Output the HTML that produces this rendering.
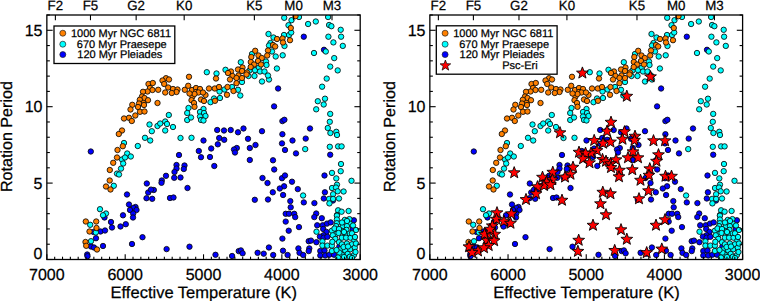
<!DOCTYPE html>
<html><head><meta charset="utf-8"><style>
html,body{margin:0;padding:0;background:#fff;width:760px;height:301px;overflow:hidden}
svg{display:block}
text{font-family:'Liberation Sans',sans-serif;fill:#000;stroke:#000;stroke-width:0.25px;text-rendering:geometricPrecision}
</style></head><body>
<svg width="760" height="301" viewBox="0 0 760 301">
<defs>
<clipPath id="cl"><rect x="46.85" y="15.0" width="313.35" height="244.50"/></clipPath>
<g id="dots" stroke="#0a0a0a" stroke-width="0.85">
<g fill="#0000ff">
<circle cx="303.8" cy="36.7" r="2.7"/>
<circle cx="324.0" cy="49.8" r="2.7"/>
<circle cx="278.1" cy="88.5" r="2.7"/>
<circle cx="217.2" cy="130.0" r="2.7"/>
<circle cx="224.0" cy="130.5" r="2.7"/>
<circle cx="230.7" cy="130.0" r="2.7"/>
<circle cx="238.0" cy="132.3" r="2.7"/>
<circle cx="243.5" cy="128.5" r="2.7"/>
<circle cx="262.0" cy="131.2" r="2.7"/>
<circle cx="274.1" cy="106.4" r="2.7"/>
<circle cx="282.4" cy="121.1" r="2.7"/>
<circle cx="284.4" cy="119.8" r="2.7"/>
<circle cx="310.0" cy="128.5" r="2.7"/>
<circle cx="90.8" cy="151.5" r="2.7"/>
<circle cx="179.0" cy="155.0" r="2.7"/>
<circle cx="203.5" cy="140.5" r="2.7"/>
<circle cx="219.2" cy="138.0" r="2.7"/>
<circle cx="224.2" cy="139.8" r="2.7"/>
<circle cx="217.8" cy="144.3" r="2.7"/>
<circle cx="211.2" cy="148.5" r="2.7"/>
<circle cx="198.8" cy="151.0" r="2.7"/>
<circle cx="201.0" cy="157.2" r="2.7"/>
<circle cx="210.0" cy="157.0" r="2.7"/>
<circle cx="248.0" cy="138.8" r="2.7"/>
<circle cx="255.5" cy="145.0" r="2.7"/>
<circle cx="249.8" cy="148.0" r="2.7"/>
<circle cx="236.8" cy="148.0" r="2.7"/>
<circle cx="234.0" cy="149.5" r="2.7"/>
<circle cx="235.0" cy="152.5" r="2.7"/>
<circle cx="249.8" cy="160.0" r="2.7"/>
<circle cx="282.4" cy="134.2" r="2.7"/>
<circle cx="292.5" cy="140.5" r="2.7"/>
<circle cx="305.7" cy="138.6" r="2.7"/>
<circle cx="282.0" cy="143.4" r="2.7"/>
<circle cx="285.0" cy="150.0" r="2.7"/>
<circle cx="296.0" cy="153.4" r="2.7"/>
<circle cx="273.0" cy="160.3" r="2.7"/>
<circle cx="330.2" cy="154.7" r="2.7"/>
<circle cx="176.5" cy="165.0" r="2.7"/>
<circle cx="176.5" cy="168.5" r="2.7"/>
<circle cx="174.5" cy="172.0" r="2.7"/>
<circle cx="174.2" cy="177.8" r="2.7"/>
<circle cx="180.5" cy="177.5" r="2.7"/>
<circle cx="184.5" cy="165.5" r="2.7"/>
<circle cx="183.8" cy="169.0" r="2.7"/>
<circle cx="166.0" cy="175.8" r="2.7"/>
<circle cx="161.8" cy="180.5" r="2.7"/>
<circle cx="161.5" cy="182.8" r="2.7"/>
<circle cx="146.8" cy="183.5" r="2.7"/>
<circle cx="214.3" cy="166.0" r="2.7"/>
<circle cx="262.5" cy="178.0" r="2.7"/>
<circle cx="187.5" cy="188.0" r="2.7"/>
<circle cx="274.2" cy="169.5" r="2.7"/>
<circle cx="267.5" cy="183.0" r="2.7"/>
<circle cx="282.0" cy="178.2" r="2.7"/>
<circle cx="285.0" cy="175.5" r="2.7"/>
<circle cx="292.0" cy="181.7" r="2.7"/>
<circle cx="284.1" cy="186.3" r="2.7"/>
<circle cx="279.8" cy="188.5" r="2.7"/>
<circle cx="297.8" cy="189.1" r="2.7"/>
<circle cx="324.5" cy="175.5" r="2.7"/>
<circle cx="153.8" cy="190.0" r="2.7"/>
<circle cx="148.2" cy="192.5" r="2.7"/>
<circle cx="146.5" cy="198.2" r="2.7"/>
<circle cx="152.2" cy="198.8" r="2.7"/>
<circle cx="127.0" cy="194.5" r="2.7"/>
<circle cx="129.0" cy="204.5" r="2.7"/>
<circle cx="135.5" cy="207.0" r="2.7"/>
<circle cx="133.5" cy="208.0" r="2.7"/>
<circle cx="130.0" cy="210.0" r="2.7"/>
<circle cx="136.5" cy="210.0" r="2.7"/>
<circle cx="133.2" cy="213.5" r="2.7"/>
<circle cx="123.0" cy="215.3" r="2.7"/>
<circle cx="170.0" cy="198.0" r="2.7"/>
<circle cx="173.5" cy="197.5" r="2.7"/>
<circle cx="254.8" cy="199.8" r="2.7"/>
<circle cx="268.0" cy="199.5" r="2.7"/>
<circle cx="272.8" cy="192.3" r="2.7"/>
<circle cx="283.1" cy="195.0" r="2.7"/>
<circle cx="290.3" cy="201.1" r="2.7"/>
<circle cx="303.8" cy="202.4" r="2.7"/>
<circle cx="314.4" cy="203.1" r="2.7"/>
<circle cx="290.7" cy="207.3" r="2.7"/>
<circle cx="285.7" cy="213.8" r="2.7"/>
<circle cx="289.0" cy="213.7" r="2.7"/>
<circle cx="294.2" cy="213.8" r="2.7"/>
<circle cx="316.2" cy="213.5" r="2.7"/>
<circle cx="324.9" cy="192.3" r="2.7"/>
<circle cx="323.8" cy="198.5" r="2.7"/>
<circle cx="333.0" cy="200.5" r="2.7"/>
<circle cx="104.5" cy="217.5" r="2.7"/>
<circle cx="111.0" cy="222.0" r="2.7"/>
<circle cx="112.0" cy="227.5" r="2.7"/>
<circle cx="120.5" cy="226.5" r="2.7"/>
<circle cx="125.8" cy="224.2" r="2.7"/>
<circle cx="133.0" cy="217.5" r="2.7"/>
<circle cx="93.5" cy="232.0" r="2.7"/>
<circle cx="100.5" cy="231.5" r="2.7"/>
<circle cx="105.0" cy="230.5" r="2.7"/>
<circle cx="96.0" cy="238.2" r="2.7"/>
<circle cx="91.0" cy="246.5" r="2.7"/>
<circle cx="94.0" cy="247.5" r="2.7"/>
<circle cx="103.0" cy="246.0" r="2.7"/>
<circle cx="87.2" cy="254.5" r="2.7"/>
<circle cx="87.5" cy="256.2" r="2.7"/>
<circle cx="132.0" cy="244.0" r="2.7"/>
<circle cx="142.5" cy="237.2" r="2.7"/>
<circle cx="166.6" cy="249.1" r="2.7"/>
<circle cx="189.5" cy="246.7" r="2.7"/>
<circle cx="215.5" cy="254.8" r="2.7"/>
<circle cx="232.1" cy="256.0" r="2.7"/>
<circle cx="238.7" cy="251.1" r="2.7"/>
<circle cx="240.9" cy="250.4" r="2.7"/>
<circle cx="242.6" cy="253.3" r="2.7"/>
<circle cx="257.6" cy="252.8" r="2.7"/>
<circle cx="263.7" cy="253.7" r="2.7"/>
<circle cx="268.9" cy="247.5" r="2.7"/>
<circle cx="273.2" cy="255.0" r="2.7"/>
<circle cx="282.4" cy="238.6" r="2.7"/>
<circle cx="283.0" cy="250.7" r="2.7"/>
<circle cx="287.6" cy="255.0" r="2.7"/>
<circle cx="298.4" cy="248.4" r="2.7"/>
<circle cx="299.5" cy="252.8" r="2.7"/>
<circle cx="303.2" cy="255.0" r="2.7"/>
<circle cx="308.7" cy="241.2" r="2.7"/>
<circle cx="309.3" cy="248.4" r="2.7"/>
<circle cx="308.7" cy="251.1" r="2.7"/>
<circle cx="295.2" cy="217.1" r="2.7"/>
<circle cx="285.7" cy="221.6" r="2.7"/>
<circle cx="299.0" cy="227.1" r="2.7"/>
<circle cx="288.7" cy="230.7" r="2.7"/>
<circle cx="314.3" cy="217.1" r="2.7"/>
<circle cx="317.2" cy="225.3" r="2.7"/>
<circle cx="311.0" cy="240.6" r="2.7"/>
<circle cx="316.4" cy="242.2" r="2.7"/>
<circle cx="321.8" cy="218.2" r="2.7"/>
<circle cx="322.8" cy="225.3" r="2.7"/>
<circle cx="327.0" cy="223.6" r="2.7"/>
<circle cx="330.7" cy="222.4" r="2.7"/>
<circle cx="323.2" cy="229.0" r="2.7"/>
<circle cx="326.5" cy="231.9" r="2.7"/>
<circle cx="323.6" cy="235.3" r="2.7"/>
<circle cx="319.9" cy="236.6" r="2.7"/>
<circle cx="323.6" cy="237.7" r="2.7"/>
<circle cx="327.4" cy="236.8" r="2.7"/>
<circle cx="320.3" cy="251.0" r="2.7"/>
<circle cx="324.5" cy="250.5" r="2.7"/>
<circle cx="320.3" cy="255.5" r="2.7"/>
<circle cx="325.3" cy="255.5" r="2.7"/>
<circle cx="329.4" cy="254.7" r="2.7"/>
<circle cx="334.0" cy="254.7" r="2.7"/>
<circle cx="339.4" cy="246.4" r="2.7"/>
<circle cx="353.5" cy="236.8" r="2.7"/>
<circle cx="353.9" cy="220.3" r="2.7"/>
<circle cx="352.7" cy="229.0" r="2.7"/>
<circle cx="151.0" cy="189.6" r="2.7"/>
</g>
<g fill="#00ffff">
<circle cx="268.5" cy="34.0" r="2.7"/>
<circle cx="273.5" cy="37.5" r="2.7"/>
<circle cx="270.5" cy="43.0" r="2.7"/>
<circle cx="284.2" cy="17.8" r="2.7"/>
<circle cx="291.5" cy="20.2" r="2.7"/>
<circle cx="299.0" cy="17.0" r="2.7"/>
<circle cx="288.5" cy="25.2" r="2.7"/>
<circle cx="308.1" cy="24.0" r="2.7"/>
<circle cx="315.8" cy="21.5" r="2.7"/>
<circle cx="284.0" cy="35.0" r="2.7"/>
<circle cx="289.0" cy="35.0" r="2.7"/>
<circle cx="291.2" cy="32.5" r="2.7"/>
<circle cx="328.1" cy="17.0" r="2.7"/>
<circle cx="329.1" cy="25.0" r="2.7"/>
<circle cx="331.4" cy="26.2" r="2.7"/>
<circle cx="340.7" cy="29.8" r="2.7"/>
<circle cx="328.4" cy="36.7" r="2.7"/>
<circle cx="341.1" cy="36.7" r="2.7"/>
<circle cx="333.4" cy="42.4" r="2.7"/>
<circle cx="240.8" cy="62.2" r="2.7"/>
<circle cx="252.0" cy="54.0" r="2.7"/>
<circle cx="269.0" cy="45.5" r="2.7"/>
<circle cx="272.0" cy="51.5" r="2.7"/>
<circle cx="266.0" cy="61.5" r="2.7"/>
<circle cx="266.5" cy="65.0" r="2.7"/>
<circle cx="225.5" cy="69.8" r="2.7"/>
<circle cx="206.8" cy="72.2" r="2.7"/>
<circle cx="216.5" cy="73.5" r="2.7"/>
<circle cx="249.5" cy="70.5" r="2.7"/>
<circle cx="255.0" cy="70.2" r="2.7"/>
<circle cx="259.0" cy="67.5" r="2.7"/>
<circle cx="260.0" cy="71.5" r="2.7"/>
<circle cx="264.5" cy="71.5" r="2.7"/>
<circle cx="284.5" cy="46.0" r="2.7"/>
<circle cx="275.7" cy="56.5" r="2.7"/>
<circle cx="282.7" cy="55.3" r="2.7"/>
<circle cx="276.9" cy="68.5" r="2.7"/>
<circle cx="314.0" cy="53.0" r="2.7"/>
<circle cx="325.8" cy="51.5" r="2.7"/>
<circle cx="334.2" cy="58.1" r="2.7"/>
<circle cx="330.2" cy="66.6" r="2.7"/>
<circle cx="337.7" cy="70.4" r="2.7"/>
<circle cx="342.8" cy="45.9" r="2.7"/>
<circle cx="248.5" cy="76.0" r="2.7"/>
<circle cx="254.5" cy="76.0" r="2.7"/>
<circle cx="242.0" cy="82.0" r="2.7"/>
<circle cx="262.0" cy="81.5" r="2.7"/>
<circle cx="269.0" cy="79.5" r="2.7"/>
<circle cx="268.0" cy="75.5" r="2.7"/>
<circle cx="232.0" cy="87.0" r="2.7"/>
<circle cx="224.5" cy="89.5" r="2.7"/>
<circle cx="219.5" cy="91.5" r="2.7"/>
<circle cx="238.0" cy="89.8" r="2.7"/>
<circle cx="240.3" cy="95.5" r="2.7"/>
<circle cx="220.0" cy="98.0" r="2.7"/>
<circle cx="214.0" cy="98.5" r="2.7"/>
<circle cx="210.5" cy="102.2" r="2.7"/>
<circle cx="326.7" cy="78.6" r="2.7"/>
<circle cx="322.1" cy="86.7" r="2.7"/>
<circle cx="325.0" cy="98.7" r="2.7"/>
<circle cx="317.8" cy="101.2" r="2.7"/>
<circle cx="323.7" cy="104.5" r="2.7"/>
<circle cx="168.8" cy="115.0" r="2.7"/>
<circle cx="149.5" cy="124.5" r="2.7"/>
<circle cx="157.5" cy="126.0" r="2.7"/>
<circle cx="160.2" cy="123.5" r="2.7"/>
<circle cx="165.2" cy="121.5" r="2.7"/>
<circle cx="167.0" cy="124.0" r="2.7"/>
<circle cx="173.0" cy="127.0" r="2.7"/>
<circle cx="151.8" cy="131.2" r="2.7"/>
<circle cx="165.2" cy="130.5" r="2.7"/>
<circle cx="188.5" cy="108.0" r="2.7"/>
<circle cx="187.2" cy="113.0" r="2.7"/>
<circle cx="187.2" cy="120.0" r="2.7"/>
<circle cx="191.0" cy="117.5" r="2.7"/>
<circle cx="203.5" cy="109.0" r="2.7"/>
<circle cx="200.0" cy="112.0" r="2.7"/>
<circle cx="204.0" cy="113.0" r="2.7"/>
<circle cx="205.5" cy="116.0" r="2.7"/>
<circle cx="200.0" cy="116.5" r="2.7"/>
<circle cx="201.0" cy="120.0" r="2.7"/>
<circle cx="203.5" cy="120.5" r="2.7"/>
<circle cx="316.2" cy="109.3" r="2.7"/>
<circle cx="330.2" cy="113.9" r="2.7"/>
<circle cx="329.8" cy="121.8" r="2.7"/>
<circle cx="327.8" cy="128.0" r="2.7"/>
<circle cx="330.4" cy="133.0" r="2.7"/>
<circle cx="336.3" cy="131.8" r="2.7"/>
<circle cx="124.0" cy="143.0" r="2.7"/>
<circle cx="127.2" cy="153.5" r="2.7"/>
<circle cx="130.8" cy="156.5" r="2.7"/>
<circle cx="122.0" cy="159.5" r="2.7"/>
<circle cx="125.0" cy="157.5" r="2.7"/>
<circle cx="137.8" cy="146.0" r="2.7"/>
<circle cx="145.0" cy="137.8" r="2.7"/>
<circle cx="150.2" cy="140.5" r="2.7"/>
<circle cx="180.5" cy="138.0" r="2.7"/>
<circle cx="191.5" cy="137.8" r="2.7"/>
<circle cx="337.0" cy="135.0" r="2.7"/>
<circle cx="305.2" cy="149.1" r="2.7"/>
<circle cx="329.8" cy="146.8" r="2.7"/>
<circle cx="338.1" cy="146.4" r="2.7"/>
<circle cx="341.6" cy="146.4" r="2.7"/>
<circle cx="123.2" cy="163.5" r="2.7"/>
<circle cx="121.0" cy="168.6" r="2.7"/>
<circle cx="117.0" cy="173.6" r="2.7"/>
<circle cx="119.0" cy="174.5" r="2.7"/>
<circle cx="113.8" cy="185.8" r="2.7"/>
<circle cx="341.0" cy="164.0" r="2.7"/>
<circle cx="340.7" cy="171.2" r="2.7"/>
<circle cx="332.0" cy="172.9" r="2.7"/>
<circle cx="336.3" cy="178.4" r="2.7"/>
<circle cx="351.5" cy="180.8" r="2.7"/>
<circle cx="337.0" cy="184.7" r="2.7"/>
<circle cx="332.0" cy="188.0" r="2.7"/>
<circle cx="336.0" cy="187.5" r="2.7"/>
<circle cx="100.0" cy="209.2" r="2.7"/>
<circle cx="106.0" cy="213.5" r="2.7"/>
<circle cx="103.0" cy="215.2" r="2.7"/>
<circle cx="303.1" cy="195.5" r="2.7"/>
<circle cx="337.7" cy="191.3" r="2.7"/>
<circle cx="343.6" cy="191.5" r="2.7"/>
<circle cx="333.1" cy="194.2" r="2.7"/>
<circle cx="329.1" cy="198.9" r="2.7"/>
<circle cx="333.1" cy="198.9" r="2.7"/>
<circle cx="339.0" cy="198.5" r="2.7"/>
<circle cx="329.4" cy="203.4" r="2.7"/>
<circle cx="338.1" cy="210.3" r="2.7"/>
<circle cx="341.6" cy="211.7" r="2.7"/>
<circle cx="348.6" cy="211.0" r="2.7"/>
<circle cx="337.0" cy="215.0" r="2.7"/>
<circle cx="90.2" cy="224.8" r="2.7"/>
<circle cx="95.8" cy="232.5" r="2.7"/>
<circle cx="91.0" cy="241.2" r="2.7"/>
<circle cx="316.5" cy="231.7" r="2.7"/>
<circle cx="336.9" cy="215.7" r="2.7"/>
<circle cx="336.9" cy="219.5" r="2.7"/>
<circle cx="344.8" cy="219.9" r="2.7"/>
<circle cx="349.4" cy="219.1" r="2.7"/>
<circle cx="349.8" cy="223.6" r="2.7"/>
<circle cx="336.9" cy="223.2" r="2.7"/>
<circle cx="336.1" cy="226.1" r="2.7"/>
<circle cx="342.7" cy="226.5" r="2.7"/>
<circle cx="346.9" cy="226.1" r="2.7"/>
<circle cx="331.9" cy="230.7" r="2.7"/>
<circle cx="341.5" cy="230.7" r="2.7"/>
<circle cx="346.5" cy="229.9" r="2.7"/>
<circle cx="336.1" cy="234.0" r="2.7"/>
<circle cx="349.4" cy="233.6" r="2.7"/>
<circle cx="344.8" cy="234.4" r="2.7"/>
<circle cx="332.8" cy="235.3" r="2.7"/>
<circle cx="322.4" cy="241.4" r="2.7"/>
<circle cx="322.4" cy="245.6" r="2.7"/>
<circle cx="327.4" cy="245.6" r="2.7"/>
<circle cx="331.9" cy="245.6" r="2.7"/>
<circle cx="335.3" cy="238.9" r="2.7"/>
<circle cx="332.3" cy="241.8" r="2.7"/>
<circle cx="339.0" cy="242.2" r="2.7"/>
<circle cx="331.9" cy="251.0" r="2.7"/>
<circle cx="341.9" cy="237.7" r="2.7"/>
<circle cx="346.1" cy="237.7" r="2.7"/>
<circle cx="350.6" cy="237.7" r="2.7"/>
<circle cx="354.4" cy="240.6" r="2.7"/>
<circle cx="346.9" cy="243.5" r="2.7"/>
<circle cx="351.9" cy="244.3" r="2.7"/>
<circle cx="341.9" cy="244.3" r="2.7"/>
<circle cx="340.7" cy="249.3" r="2.7"/>
<circle cx="345.2" cy="250.5" r="2.7"/>
<circle cx="350.2" cy="249.3" r="2.7"/>
<circle cx="354.8" cy="247.6" r="2.7"/>
<circle cx="341.9" cy="254.7" r="2.7"/>
<circle cx="347.7" cy="253.9" r="2.7"/>
<circle cx="353.9" cy="255.1" r="2.7"/>
<circle cx="349.8" cy="256.8" r="2.7"/>
<circle cx="339.4" cy="252.6" r="2.7"/>
<circle cx="334.5" cy="228.5" r="2.7"/>
<circle cx="339.0" cy="229.0" r="2.7"/>
<circle cx="344.0" cy="232.0" r="2.7"/>
<circle cx="352.0" cy="233.3" r="2.7"/>
<circle cx="355.0" cy="237.0" r="2.7"/>
<circle cx="338.5" cy="233.0" r="2.7"/>
<circle cx="353.0" cy="225.5" r="2.7"/>
<circle cx="356.0" cy="230.0" r="2.7"/>
<circle cx="343.5" cy="247.0" r="2.7"/>
<circle cx="348.0" cy="246.5" r="2.7"/>
<circle cx="355.5" cy="252.0" r="2.7"/>
<circle cx="344.0" cy="257.0" r="2.7"/>
<circle cx="338.0" cy="257.5" r="2.7"/>
<circle cx="352.0" cy="258.0" r="2.7"/>
<circle cx="336.5" cy="250.0" r="2.7"/>
<circle cx="356.0" cy="243.5" r="2.7"/>
<circle cx="342.0" cy="222.5" r="2.7"/>
<circle cx="347.0" cy="221.0" r="2.7"/>
</g>
<g fill="#ff8000">
<circle cx="295.5" cy="16.2" r="2.7"/>
<circle cx="290.8" cy="28.0" r="2.7"/>
<circle cx="277.0" cy="39.0" r="2.7"/>
<circle cx="282.5" cy="38.5" r="2.7"/>
<circle cx="290.0" cy="40.2" r="2.7"/>
<circle cx="283.0" cy="42.5" r="2.7"/>
<circle cx="273.0" cy="45.0" r="2.7"/>
<circle cx="268.0" cy="50.5" r="2.7"/>
<circle cx="267.2" cy="55.5" r="2.7"/>
<circle cx="255.2" cy="50.8" r="2.7"/>
<circle cx="251.3" cy="57.0" r="2.7"/>
<circle cx="258.5" cy="55.5" r="2.7"/>
<circle cx="261.8" cy="58.0" r="2.7"/>
<circle cx="250.8" cy="62.0" r="2.7"/>
<circle cx="258.0" cy="61.0" r="2.7"/>
<circle cx="254.0" cy="64.5" r="2.7"/>
<circle cx="261.0" cy="64.5" r="2.7"/>
<circle cx="250.7" cy="67.0" r="2.7"/>
<circle cx="242.5" cy="67.5" r="2.7"/>
<circle cx="238.0" cy="69.5" r="2.7"/>
<circle cx="242.0" cy="71.0" r="2.7"/>
<circle cx="247.0" cy="72.5" r="2.7"/>
<circle cx="231.0" cy="71.5" r="2.7"/>
<circle cx="228.0" cy="73.0" r="2.7"/>
<circle cx="275.2" cy="46.5" r="2.7"/>
<circle cx="189.0" cy="76.8" r="2.7"/>
<circle cx="166.0" cy="78.2" r="2.7"/>
<circle cx="169.0" cy="79.5" r="2.7"/>
<circle cx="162.5" cy="80.5" r="2.7"/>
<circle cx="164.2" cy="84.0" r="2.7"/>
<circle cx="148.5" cy="84.0" r="2.7"/>
<circle cx="152.8" cy="83.0" r="2.7"/>
<circle cx="150.0" cy="88.0" r="2.7"/>
<circle cx="152.5" cy="90.0" r="2.7"/>
<circle cx="147.5" cy="91.5" r="2.7"/>
<circle cx="143.0" cy="91.8" r="2.7"/>
<circle cx="158.2" cy="89.8" r="2.7"/>
<circle cx="168.2" cy="87.5" r="2.7"/>
<circle cx="173.0" cy="89.0" r="2.7"/>
<circle cx="177.5" cy="89.5" r="2.7"/>
<circle cx="176.5" cy="92.0" r="2.7"/>
<circle cx="165.2" cy="92.5" r="2.7"/>
<circle cx="171.8" cy="93.0" r="2.7"/>
<circle cx="184.8" cy="89.8" r="2.7"/>
<circle cx="188.2" cy="85.8" r="2.7"/>
<circle cx="192.0" cy="90.0" r="2.7"/>
<circle cx="196.0" cy="88.0" r="2.7"/>
<circle cx="196.0" cy="92.0" r="2.7"/>
<circle cx="192.5" cy="96.5" r="2.7"/>
<circle cx="191.5" cy="100.2" r="2.7"/>
<circle cx="194.0" cy="103.0" r="2.7"/>
<circle cx="142.0" cy="96.5" r="2.7"/>
<circle cx="144.5" cy="98.0" r="2.7"/>
<circle cx="139.8" cy="99.8" r="2.7"/>
<circle cx="148.0" cy="100.2" r="2.7"/>
<circle cx="143.5" cy="103.0" r="2.7"/>
<circle cx="139.0" cy="103.5" r="2.7"/>
<circle cx="157.5" cy="103.0" r="2.7"/>
<circle cx="132.3" cy="104.8" r="2.7"/>
<circle cx="216.0" cy="78.5" r="2.7"/>
<circle cx="232.5" cy="76.0" r="2.7"/>
<circle cx="238.5" cy="75.5" r="2.7"/>
<circle cx="236.5" cy="78.0" r="2.7"/>
<circle cx="242.0" cy="78.0" r="2.7"/>
<circle cx="230.0" cy="79.5" r="2.7"/>
<circle cx="236.5" cy="83.2" r="2.7"/>
<circle cx="246.5" cy="74.5" r="2.7"/>
<circle cx="209.0" cy="88.5" r="2.7"/>
<circle cx="214.8" cy="88.5" r="2.7"/>
<circle cx="219.0" cy="87.0" r="2.7"/>
<circle cx="227.5" cy="87.0" r="2.7"/>
<circle cx="233.5" cy="91.0" r="2.7"/>
<circle cx="227.0" cy="94.8" r="2.7"/>
<circle cx="200.0" cy="89.0" r="2.7"/>
<circle cx="198.5" cy="92.5" r="2.7"/>
<circle cx="205.5" cy="95.0" r="2.7"/>
<circle cx="203.0" cy="92.5" r="2.7"/>
<circle cx="201.0" cy="99.5" r="2.7"/>
<circle cx="204.0" cy="101.0" r="2.7"/>
<circle cx="215.0" cy="100.8" r="2.7"/>
<circle cx="138.0" cy="107.0" r="2.7"/>
<circle cx="144.0" cy="105.0" r="2.7"/>
<circle cx="130.5" cy="109.5" r="2.7"/>
<circle cx="140.0" cy="111.8" r="2.7"/>
<circle cx="144.5" cy="111.5" r="2.7"/>
<circle cx="135.3" cy="115.5" r="2.7"/>
<circle cx="129.0" cy="117.8" r="2.7"/>
<circle cx="124.0" cy="118.5" r="2.7"/>
<circle cx="131.8" cy="121.0" r="2.7"/>
<circle cx="122.0" cy="130.5" r="2.7"/>
<circle cx="118.8" cy="134.0" r="2.7"/>
<circle cx="194.5" cy="106.8" r="2.7"/>
<circle cx="122.8" cy="146.2" r="2.7"/>
<circle cx="117.5" cy="150.0" r="2.7"/>
<circle cx="117.0" cy="157.5" r="2.7"/>
<circle cx="113.2" cy="162.8" r="2.7"/>
<circle cx="109.8" cy="170.0" r="2.7"/>
<circle cx="109.7" cy="180.5" r="2.7"/>
<circle cx="106.0" cy="186.5" r="2.7"/>
<circle cx="110.5" cy="189.5" r="2.7"/>
<circle cx="85.8" cy="221.5" r="2.7"/>
<circle cx="96.2" cy="221.5" r="2.7"/>
<circle cx="96.5" cy="228.0" r="2.7"/>
<circle cx="89.5" cy="231.5" r="2.7"/>
<circle cx="85.5" cy="242.0" r="2.7"/>
<circle cx="86.2" cy="245.8" r="2.7"/>
<circle cx="97.0" cy="249.5" r="2.7"/>
<circle cx="194.5" cy="94.0" r="2.7"/>
<circle cx="189.5" cy="93.5" r="2.7"/>
</g>
</g>
</defs>
<rect width="760" height="301" fill="#fff"/>
<g clip-path="url(#cl)"><use href="#dots"/></g>
<g transform="translate(383,0)"><g clip-path="url(#cl)"><use href="#dots"/></g></g>

<g fill="#ff0000" stroke="#000" stroke-width="0.9" stroke-linejoin="miter">
<path d="M582.40,66.90 L583.93,71.00 L588.30,71.18 L584.87,73.90 L586.04,78.12 L582.40,75.70 L578.76,78.12 L579.93,73.90 L576.50,71.18 L580.87,71.00Z"/>
<path d="M650.50,70.60 L652.03,74.70 L656.40,74.88 L652.97,77.60 L654.14,81.82 L650.50,79.40 L646.86,81.82 L648.03,77.60 L644.60,74.88 L648.97,74.70Z"/>
<path d="M626.80,90.10 L628.33,94.20 L632.70,94.38 L629.27,97.10 L630.44,101.32 L626.80,98.90 L623.16,101.32 L624.33,97.10 L620.90,94.38 L625.27,94.20Z"/>
<path d="M611.00,116.10 L612.53,120.20 L616.90,120.38 L613.47,123.10 L614.64,127.32 L611.00,124.90 L607.36,127.32 L608.53,123.10 L605.10,120.38 L609.47,120.20Z"/>
<path d="M560.00,126.60 L561.53,130.70 L565.90,130.88 L562.47,133.60 L563.64,137.82 L560.00,135.40 L556.36,137.82 L557.53,133.60 L554.10,130.88 L558.47,130.70Z"/>
<path d="M607.00,125.10 L608.53,129.20 L612.90,129.38 L609.47,132.10 L610.64,136.32 L607.00,133.90 L603.36,136.32 L604.53,132.10 L601.10,129.38 L605.47,129.20Z"/>
<path d="M594.20,134.30 L595.73,138.40 L600.10,138.58 L596.67,141.30 L597.84,145.52 L594.20,143.10 L590.56,145.52 L591.73,141.30 L588.30,138.58 L592.67,138.40Z"/>
<path d="M603.00,137.10 L604.53,141.20 L608.90,141.38 L605.47,144.10 L606.64,148.32 L603.00,145.90 L599.36,148.32 L600.53,144.10 L597.10,141.38 L601.47,141.20Z"/>
<path d="M610.50,135.90 L612.03,140.00 L616.40,140.18 L612.97,142.90 L614.14,147.12 L610.50,144.70 L606.86,147.12 L608.03,142.90 L604.60,140.18 L608.97,140.00Z"/>
<path d="M624.50,125.60 L626.03,129.70 L630.40,129.88 L626.97,132.60 L628.14,136.82 L624.50,134.40 L620.86,136.82 L622.03,132.60 L618.60,129.88 L622.97,129.70Z"/>
<path d="M622.50,133.10 L624.03,137.20 L628.40,137.38 L624.97,140.10 L626.14,144.32 L622.50,141.90 L618.86,144.32 L620.03,140.10 L616.60,137.38 L620.97,137.20Z"/>
<path d="M635.00,130.10 L636.53,134.20 L640.90,134.38 L637.47,137.10 L638.64,141.32 L635.00,138.90 L631.36,141.32 L632.53,137.10 L629.10,134.38 L633.47,134.20Z"/>
<path d="M634.50,134.10 L636.03,138.20 L640.40,138.38 L636.97,141.10 L638.14,145.32 L634.50,142.90 L630.86,145.32 L632.03,141.10 L628.60,138.38 L632.97,138.20Z"/>
<path d="M653.50,134.60 L655.03,138.70 L659.40,138.88 L655.97,141.60 L657.14,145.82 L653.50,143.40 L649.86,145.82 L651.03,141.60 L647.60,138.88 L651.97,138.70Z"/>
<path d="M665.00,134.60 L666.53,138.70 L670.90,138.88 L667.47,141.60 L668.64,145.82 L665.00,143.40 L661.36,145.82 L662.53,141.60 L659.10,138.88 L663.47,138.70Z"/>
<path d="M597.00,144.40 L598.53,148.50 L602.90,148.68 L599.47,151.40 L600.64,155.62 L597.00,153.20 L593.36,155.62 L594.53,151.40 L591.10,148.68 L595.47,148.50Z"/>
<path d="M591.00,146.90 L592.53,151.00 L596.90,151.18 L593.47,153.90 L594.64,158.12 L591.00,155.70 L587.36,158.12 L588.53,153.90 L585.10,151.18 L589.47,151.00Z"/>
<path d="M633.00,145.60 L634.53,149.70 L638.90,149.88 L635.47,152.60 L636.64,156.82 L633.00,154.40 L629.36,156.82 L630.53,152.60 L627.10,149.88 L631.47,149.70Z"/>
<path d="M628.00,151.60 L629.53,155.70 L633.90,155.88 L630.47,158.60 L631.64,162.82 L628.00,160.40 L624.36,162.82 L625.53,158.60 L622.10,155.88 L626.47,155.70Z"/>
<path d="M638.00,151.60 L639.53,155.70 L643.90,155.88 L640.47,158.60 L641.64,162.82 L638.00,160.40 L634.36,162.82 L635.53,158.60 L632.10,155.88 L636.47,155.70Z"/>
<path d="M658.50,148.60 L660.03,152.70 L664.40,152.88 L660.97,155.60 L662.14,159.82 L658.50,157.40 L654.86,159.82 L656.03,155.60 L652.60,152.88 L656.97,152.70Z"/>
<path d="M656.50,155.10 L658.03,159.20 L662.40,159.38 L658.97,162.10 L660.14,166.32 L656.50,163.90 L652.86,166.32 L654.03,162.10 L650.60,159.38 L654.97,159.20Z"/>
<path d="M602.50,153.30 L604.03,157.40 L608.40,157.58 L604.97,160.30 L606.14,164.52 L602.50,162.10 L598.86,164.52 L600.03,160.30 L596.60,157.58 L600.97,157.40Z"/>
<path d="M606.00,155.10 L607.53,159.20 L611.90,159.38 L608.47,162.10 L609.64,166.32 L606.00,163.90 L602.36,166.32 L603.53,162.10 L600.10,159.38 L604.47,159.20Z"/>
<path d="M616.00,153.60 L617.53,157.70 L621.90,157.88 L618.47,160.60 L619.64,164.82 L616.00,162.40 L612.36,164.82 L613.53,160.60 L610.10,157.88 L614.47,157.70Z"/>
<path d="M610.50,157.60 L612.03,161.70 L616.40,161.88 L612.97,164.60 L614.14,168.82 L610.50,166.40 L606.86,168.82 L608.03,164.60 L604.60,161.88 L608.97,161.70Z"/>
<path d="M611.00,161.40 L612.53,165.50 L616.90,165.68 L613.47,168.40 L614.64,172.62 L611.00,170.20 L607.36,172.62 L608.53,168.40 L605.10,165.68 L609.47,165.50Z"/>
<path d="M632.30,163.60 L633.83,167.70 L638.20,167.88 L634.77,170.60 L635.94,174.82 L632.30,172.40 L628.66,174.82 L629.83,170.60 L626.40,167.88 L630.77,167.70Z"/>
<path d="M649.80,162.60 L651.33,166.70 L655.70,166.88 L652.27,169.60 L653.44,173.82 L649.80,171.40 L646.16,173.82 L647.33,169.60 L643.90,166.88 L648.27,166.70Z"/>
<path d="M579.00,146.10 L580.53,150.20 L584.90,150.38 L581.47,153.10 L582.64,157.32 L579.00,154.90 L575.36,157.32 L576.53,153.10 L573.10,150.38 L577.47,150.20Z"/>
<path d="M585.50,147.10 L587.03,151.20 L591.40,151.38 L587.97,154.10 L589.14,158.32 L585.50,155.90 L581.86,158.32 L583.03,154.10 L579.60,151.38 L583.97,151.20Z"/>
<path d="M583.00,152.60 L584.53,156.70 L588.90,156.88 L585.47,159.60 L586.64,163.82 L583.00,161.40 L579.36,163.82 L580.53,159.60 L577.10,156.88 L581.47,156.70Z"/>
<path d="M589.50,156.60 L591.03,160.70 L595.40,160.88 L591.97,163.60 L593.14,167.82 L589.50,165.40 L585.86,167.82 L587.03,163.60 L583.60,160.88 L587.97,160.70Z"/>
<path d="M573.00,161.10 L574.53,165.20 L578.90,165.38 L575.47,168.10 L576.64,172.32 L573.00,169.90 L569.36,172.32 L570.53,168.10 L567.10,165.38 L571.47,165.20Z"/>
<path d="M514.20,166.60 L515.73,170.70 L520.10,170.88 L516.67,173.60 L517.84,177.82 L514.20,175.40 L510.56,177.82 L511.73,173.60 L508.30,170.88 L512.67,170.70Z"/>
<path d="M552.80,166.10 L554.33,170.20 L558.70,170.38 L555.27,173.10 L556.44,177.32 L552.80,174.90 L549.16,177.32 L550.33,173.10 L546.90,170.38 L551.27,170.20Z"/>
<path d="M570.50,168.10 L572.03,172.20 L576.40,172.38 L572.97,175.10 L574.14,179.32 L570.50,176.90 L566.86,179.32 L568.03,175.10 L564.60,172.38 L568.97,172.20Z"/>
<path d="M565.00,170.90 L566.53,175.00 L570.90,175.18 L567.47,177.90 L568.64,182.12 L565.00,179.70 L561.36,182.12 L562.53,177.90 L559.10,175.18 L563.47,175.00Z"/>
<path d="M542.50,171.10 L544.03,175.20 L548.40,175.38 L544.97,178.10 L546.14,182.32 L542.50,179.90 L538.86,182.32 L540.03,178.10 L536.60,175.38 L540.97,175.20Z"/>
<path d="M552.30,173.60 L553.83,177.70 L558.20,177.88 L554.77,180.60 L555.94,184.82 L552.30,182.40 L548.66,184.82 L549.83,180.60 L546.40,177.88 L550.77,177.70Z"/>
<path d="M546.50,176.10 L548.03,180.20 L552.40,180.38 L548.97,183.10 L550.14,187.32 L546.50,184.90 L542.86,187.32 L544.03,183.10 L540.60,180.38 L544.97,180.20Z"/>
<path d="M544.00,179.40 L545.53,183.50 L549.90,183.68 L546.47,186.40 L547.64,190.62 L544.00,188.20 L540.36,190.62 L541.53,186.40 L538.10,183.68 L542.47,183.50Z"/>
<path d="M550.50,178.60 L552.03,182.70 L556.40,182.88 L552.97,185.60 L554.14,189.82 L550.50,187.40 L546.86,189.82 L548.03,185.60 L544.60,182.88 L548.97,182.70Z"/>
<path d="M537.50,180.60 L539.03,184.70 L543.40,184.88 L539.97,187.60 L541.14,191.82 L537.50,189.40 L533.86,191.82 L535.03,187.60 L531.60,184.88 L535.97,184.70Z"/>
<path d="M536.00,187.60 L537.53,191.70 L541.90,191.88 L538.47,194.60 L539.64,198.82 L536.00,196.40 L532.36,198.82 L533.53,194.60 L530.10,191.88 L534.47,191.70Z"/>
<path d="M602.80,186.10 L604.33,190.20 L608.70,190.38 L605.27,193.10 L606.44,197.32 L602.80,194.90 L599.16,197.32 L600.33,193.10 L596.90,190.38 L601.27,190.20Z"/>
<path d="M619.50,164.10 L621.03,168.20 L625.40,168.38 L621.97,171.10 L623.14,175.32 L619.50,172.90 L615.86,175.32 L617.03,171.10 L613.60,168.38 L617.97,168.20Z"/>
<path d="M619.00,170.60 L620.53,174.70 L624.90,174.88 L621.47,177.60 L622.64,181.82 L619.00,179.40 L615.36,181.82 L616.53,177.60 L613.10,174.88 L617.47,174.70Z"/>
<path d="M649.00,169.10 L650.53,173.20 L654.90,173.38 L651.47,176.10 L652.64,180.32 L649.00,177.90 L645.36,180.32 L646.53,176.10 L643.10,173.38 L647.47,173.20Z"/>
<path d="M640.50,174.10 L642.03,178.20 L646.40,178.38 L642.97,181.10 L644.14,185.32 L640.50,182.90 L636.86,185.32 L638.03,181.10 L634.60,178.38 L638.97,178.20Z"/>
<path d="M665.50,170.10 L667.03,174.20 L671.40,174.38 L667.97,177.10 L669.14,181.32 L665.50,178.90 L661.86,181.32 L663.03,177.10 L659.60,174.38 L663.97,174.20Z"/>
<path d="M671.50,170.10 L673.03,174.20 L677.40,174.38 L673.97,177.10 L675.14,181.32 L671.50,178.90 L667.86,181.32 L669.03,177.10 L665.60,174.38 L669.97,174.20Z"/>
<path d="M648.50,184.60 L650.03,188.70 L654.40,188.88 L650.97,191.60 L652.14,195.82 L648.50,193.40 L644.86,195.82 L646.03,191.60 L642.60,188.88 L646.97,188.70Z"/>
<path d="M610.50,187.60 L612.03,191.70 L616.40,191.88 L612.97,194.60 L614.14,198.82 L610.50,196.40 L606.86,198.82 L608.03,194.60 L604.60,191.88 L608.97,191.70Z"/>
<path d="M526.00,193.40 L527.53,197.50 L531.90,197.68 L528.47,200.40 L529.64,204.62 L526.00,202.20 L522.36,204.62 L523.53,200.40 L520.10,197.68 L524.47,197.50Z"/>
<path d="M497.00,206.60 L498.53,210.70 L502.90,210.88 L499.47,213.60 L500.64,217.82 L497.00,215.40 L493.36,217.82 L494.53,213.60 L491.10,210.88 L495.47,210.70Z"/>
<path d="M511.50,207.60 L513.03,211.70 L517.40,211.88 L513.97,214.60 L515.14,218.82 L511.50,216.40 L507.86,218.82 L509.03,214.60 L505.60,211.88 L509.97,211.70Z"/>
<path d="M562.00,194.10 L563.53,198.20 L567.90,198.38 L564.47,201.10 L565.64,205.32 L562.00,202.90 L558.36,205.32 L559.53,201.10 L556.10,198.38 L560.47,198.20Z"/>
<path d="M600.50,197.60 L602.03,201.70 L606.40,201.88 L602.97,204.60 L604.14,208.82 L600.50,206.40 L596.86,208.82 L598.03,204.60 L594.60,201.88 L598.97,201.70Z"/>
<path d="M606.00,208.60 L607.53,212.70 L611.90,212.88 L608.47,215.60 L609.64,219.82 L606.00,217.40 L602.36,219.82 L603.53,215.60 L600.10,212.88 L604.47,212.70Z"/>
<path d="M639.00,192.60 L640.53,196.70 L644.90,196.88 L641.47,199.60 L642.64,203.82 L639.00,201.40 L635.36,203.82 L636.53,199.60 L633.10,196.88 L637.47,196.70Z"/>
<path d="M496.50,213.10 L498.03,217.20 L502.40,217.38 L498.97,220.10 L500.14,224.32 L496.50,221.90 L492.86,224.32 L494.03,220.10 L490.60,217.38 L494.97,217.20Z"/>
<path d="M504.00,215.10 L505.53,219.20 L509.90,219.38 L506.47,222.10 L507.64,226.32 L504.00,223.90 L500.36,226.32 L501.53,222.10 L498.10,219.38 L502.47,219.20Z"/>
<path d="M510.50,217.10 L512.03,221.20 L516.40,221.38 L512.97,224.10 L514.14,228.32 L510.50,225.90 L506.86,228.32 L508.03,224.10 L504.60,221.38 L508.97,221.20Z"/>
<path d="M492.30,219.70 L493.83,223.80 L498.20,223.98 L494.77,226.70 L495.94,230.92 L492.30,228.50 L488.66,230.92 L489.83,226.70 L486.40,223.98 L490.77,223.80Z"/>
<path d="M487.50,227.50 L489.03,231.60 L493.40,231.78 L489.97,234.50 L491.14,238.72 L487.50,236.30 L483.86,238.72 L485.03,234.50 L481.60,231.78 L485.97,231.60Z"/>
<path d="M494.70,228.10 L496.23,232.20 L500.60,232.38 L497.17,235.10 L498.34,239.32 L494.70,236.90 L491.06,239.32 L492.23,235.10 L488.80,232.38 L493.17,232.20Z"/>
<path d="M486.90,234.10 L488.43,238.20 L492.80,238.38 L489.37,241.10 L490.54,245.32 L486.90,242.90 L483.26,245.32 L484.43,241.10 L481.00,238.38 L485.37,238.20Z"/>
<path d="M494.10,234.60 L495.63,238.70 L500.00,238.88 L496.57,241.60 L497.74,245.82 L494.10,243.40 L490.46,245.82 L491.63,241.60 L488.20,238.88 L492.57,238.70Z"/>
<path d="M488.70,239.40 L490.23,243.50 L494.60,243.68 L491.17,246.40 L492.34,250.62 L488.70,248.20 L485.06,250.62 L486.23,246.40 L482.80,243.68 L487.17,243.50Z"/>
<path d="M469.00,240.60 L470.53,244.70 L474.90,244.88 L471.47,247.60 L472.64,251.82 L469.00,249.40 L465.36,251.82 L466.53,247.60 L463.10,244.88 L467.47,244.70Z"/>
<path d="M478.00,244.80 L479.53,248.90 L483.90,249.08 L480.47,251.80 L481.64,256.02 L478.00,253.60 L474.36,256.02 L475.53,251.80 L472.10,249.08 L476.47,248.90Z"/>
<path d="M472.00,246.40 L473.53,250.50 L477.90,250.68 L474.47,253.40 L475.64,257.62 L472.00,255.20 L468.36,257.62 L469.53,253.40 L466.10,250.68 L470.47,250.50Z"/>
<path d="M484.00,241.60 L485.53,245.70 L489.90,245.88 L486.47,248.60 L487.64,252.82 L484.00,250.40 L480.36,252.82 L481.53,248.60 L478.10,245.88 L482.47,245.70Z"/>
<path d="M593.00,219.10 L594.53,223.20 L598.90,223.38 L595.47,226.10 L596.64,230.32 L593.00,227.90 L589.36,230.32 L590.53,226.10 L587.10,223.38 L591.47,223.20Z"/>
<path d="M578.70,234.10 L580.23,238.20 L584.60,238.38 L581.17,241.10 L582.34,245.32 L578.70,242.90 L575.06,245.32 L576.23,241.10 L572.80,238.38 L577.17,238.20Z"/>
<path d="M577.90,245.20 L579.43,249.30 L583.80,249.48 L580.37,252.20 L581.54,256.42 L577.90,254.00 L574.26,256.42 L575.43,252.20 L572.00,249.48 L576.37,249.30Z"/>
<path d="M621.00,223.60 L622.53,227.70 L626.90,227.88 L623.47,230.60 L624.64,234.82 L621.00,232.40 L617.36,234.82 L618.53,230.60 L615.10,227.88 L619.47,227.70Z"/>
<path d="M626.80,233.10 L628.33,237.20 L632.70,237.38 L629.27,240.10 L630.44,244.32 L626.80,241.90 L623.16,244.32 L624.33,240.10 L620.90,237.38 L625.27,237.20Z"/>
<path d="M656.00,219.10 L657.53,223.20 L661.90,223.38 L658.47,226.10 L659.64,230.32 L656.00,227.90 L652.36,230.32 L653.53,226.10 L650.10,223.38 L654.47,223.20Z"/>
<path d="M665.00,213.60 L666.53,217.70 L670.90,217.88 L667.47,220.60 L668.64,224.82 L665.00,222.40 L661.36,224.82 L662.53,220.60 L659.10,217.88 L663.47,217.70Z"/>
<path d="M614.70,244.30 L616.23,248.40 L620.60,248.58 L617.17,251.30 L618.34,255.52 L614.70,253.10 L611.06,255.52 L612.23,251.30 L608.80,248.58 L613.17,248.40Z"/>
<path d="M646.70,246.50 L648.23,250.60 L652.60,250.78 L649.17,253.50 L650.34,257.72 L646.70,255.30 L643.06,257.72 L644.23,253.50 L640.80,250.78 L645.17,250.60Z"/>
<path d="M661.80,242.90 L663.33,247.00 L667.70,247.18 L664.27,249.90 L665.44,254.12 L661.80,251.70 L658.16,254.12 L659.33,249.90 L655.90,247.18 L660.27,247.00Z"/>
<path d="M484.50,228.10 L486.03,232.20 L490.40,232.38 L486.97,235.10 L488.14,239.32 L484.50,236.90 L480.86,239.32 L482.03,235.10 L478.60,232.38 L482.97,232.20Z"/>
<path d="M490.00,223.10 L491.53,227.20 L495.90,227.38 L492.47,230.10 L493.64,234.32 L490.00,231.90 L486.36,234.32 L487.53,230.10 L484.10,227.38 L488.47,227.20Z"/>
</g>
<g stroke="#000" stroke-width="1.1" fill="none"><rect x="46.85" y="15.0" width="313.35" height="244.50" fill="none" stroke="#000" stroke-width="1.3"/>
<line x1="360.20" y1="259.5" x2="360.20" y2="254.30"/>
<line x1="352.37" y1="259.5" x2="352.37" y2="256.70"/>
<line x1="344.53" y1="259.5" x2="344.53" y2="256.70"/>
<line x1="336.70" y1="259.5" x2="336.70" y2="256.70"/>
<line x1="328.86" y1="259.5" x2="328.86" y2="256.70"/>
<line x1="321.03" y1="259.5" x2="321.03" y2="256.70"/>
<line x1="313.20" y1="259.5" x2="313.20" y2="256.70"/>
<line x1="305.36" y1="259.5" x2="305.36" y2="256.70"/>
<line x1="297.53" y1="259.5" x2="297.53" y2="256.70"/>
<line x1="289.70" y1="259.5" x2="289.70" y2="256.70"/>
<line x1="281.86" y1="259.5" x2="281.86" y2="254.30"/>
<line x1="274.03" y1="259.5" x2="274.03" y2="256.70"/>
<line x1="266.19" y1="259.5" x2="266.19" y2="256.70"/>
<line x1="258.36" y1="259.5" x2="258.36" y2="256.70"/>
<line x1="250.53" y1="259.5" x2="250.53" y2="256.70"/>
<line x1="242.69" y1="259.5" x2="242.69" y2="256.70"/>
<line x1="234.86" y1="259.5" x2="234.86" y2="256.70"/>
<line x1="227.03" y1="259.5" x2="227.03" y2="256.70"/>
<line x1="219.19" y1="259.5" x2="219.19" y2="256.70"/>
<line x1="211.36" y1="259.5" x2="211.36" y2="256.70"/>
<line x1="203.52" y1="259.5" x2="203.52" y2="254.30"/>
<line x1="195.69" y1="259.5" x2="195.69" y2="256.70"/>
<line x1="187.86" y1="259.5" x2="187.86" y2="256.70"/>
<line x1="180.02" y1="259.5" x2="180.02" y2="256.70"/>
<line x1="172.19" y1="259.5" x2="172.19" y2="256.70"/>
<line x1="164.36" y1="259.5" x2="164.36" y2="256.70"/>
<line x1="156.52" y1="259.5" x2="156.52" y2="256.70"/>
<line x1="148.69" y1="259.5" x2="148.69" y2="256.70"/>
<line x1="140.85" y1="259.5" x2="140.85" y2="256.70"/>
<line x1="133.02" y1="259.5" x2="133.02" y2="256.70"/>
<line x1="125.19" y1="259.5" x2="125.19" y2="254.30"/>
<line x1="117.35" y1="259.5" x2="117.35" y2="256.70"/>
<line x1="109.52" y1="259.5" x2="109.52" y2="256.70"/>
<line x1="101.69" y1="259.5" x2="101.69" y2="256.70"/>
<line x1="93.85" y1="259.5" x2="93.85" y2="256.70"/>
<line x1="86.02" y1="259.5" x2="86.02" y2="256.70"/>
<line x1="78.19" y1="259.5" x2="78.19" y2="256.70"/>
<line x1="70.35" y1="259.5" x2="70.35" y2="256.70"/>
<line x1="62.52" y1="259.5" x2="62.52" y2="256.70"/>
<line x1="54.68" y1="259.5" x2="54.68" y2="256.70"/>
<line x1="46.85" y1="259.5" x2="46.85" y2="254.30"/>
<line x1="46.85" y1="259.50" x2="52.65" y2="259.50"/>
<line x1="360.2" y1="259.50" x2="354.40" y2="259.50"/>
<line x1="46.85" y1="244.22" x2="49.85" y2="244.22"/>
<line x1="360.2" y1="244.22" x2="357.20" y2="244.22"/>
<line x1="46.85" y1="228.94" x2="49.85" y2="228.94"/>
<line x1="360.2" y1="228.94" x2="357.20" y2="228.94"/>
<line x1="46.85" y1="213.66" x2="49.85" y2="213.66"/>
<line x1="360.2" y1="213.66" x2="357.20" y2="213.66"/>
<line x1="46.85" y1="198.38" x2="49.85" y2="198.38"/>
<line x1="360.2" y1="198.38" x2="357.20" y2="198.38"/>
<line x1="46.85" y1="183.09" x2="52.65" y2="183.09"/>
<line x1="360.2" y1="183.09" x2="354.40" y2="183.09"/>
<line x1="46.85" y1="167.81" x2="49.85" y2="167.81"/>
<line x1="360.2" y1="167.81" x2="357.20" y2="167.81"/>
<line x1="46.85" y1="152.53" x2="49.85" y2="152.53"/>
<line x1="360.2" y1="152.53" x2="357.20" y2="152.53"/>
<line x1="46.85" y1="137.25" x2="49.85" y2="137.25"/>
<line x1="360.2" y1="137.25" x2="357.20" y2="137.25"/>
<line x1="46.85" y1="121.97" x2="49.85" y2="121.97"/>
<line x1="360.2" y1="121.97" x2="357.20" y2="121.97"/>
<line x1="46.85" y1="106.69" x2="52.65" y2="106.69"/>
<line x1="360.2" y1="106.69" x2="354.40" y2="106.69"/>
<line x1="46.85" y1="91.41" x2="49.85" y2="91.41"/>
<line x1="360.2" y1="91.41" x2="357.20" y2="91.41"/>
<line x1="46.85" y1="76.12" x2="49.85" y2="76.12"/>
<line x1="360.2" y1="76.12" x2="357.20" y2="76.12"/>
<line x1="46.85" y1="60.84" x2="49.85" y2="60.84"/>
<line x1="360.2" y1="60.84" x2="357.20" y2="60.84"/>
<line x1="46.85" y1="45.56" x2="49.85" y2="45.56"/>
<line x1="360.2" y1="45.56" x2="357.20" y2="45.56"/>
<line x1="46.85" y1="30.28" x2="52.65" y2="30.28"/>
<line x1="360.2" y1="30.28" x2="354.40" y2="30.28"/>
<line x1="46.85" y1="15.00" x2="49.85" y2="15.00"/>
<line x1="360.2" y1="15.00" x2="357.20" y2="15.00"/>
<line x1="55.39" y1="15.0" x2="55.39" y2="20.20"/>
<line x1="90.48" y1="15.0" x2="90.48" y2="20.20"/>
<line x1="136.15" y1="15.0" x2="136.15" y2="20.20"/>
<line x1="184.18" y1="15.0" x2="184.18" y2="20.20"/>
<line x1="254.37" y1="15.0" x2="254.37" y2="20.20"/>
<line x1="293.61" y1="15.0" x2="293.61" y2="20.20"/>
<line x1="332.00" y1="15.0" x2="332.00" y2="20.20"/></g>
<text x="360.20" y="279.6" text-anchor="middle" font-size="16">3000</text>
<text x="281.86" y="279.6" text-anchor="middle" font-size="16">4000</text>
<text x="203.52" y="279.6" text-anchor="middle" font-size="16">5000</text>
<text x="125.19" y="279.6" text-anchor="middle" font-size="16">6000</text>
<text x="46.85" y="279.6" text-anchor="middle" font-size="16">7000</text>
<text x="42.45" y="259.10" text-anchor="end" font-size="16">0</text>
<text x="42.45" y="188.69" text-anchor="end" font-size="16">5</text>
<text x="42.45" y="112.29" text-anchor="end" font-size="16">10</text>
<text x="42.45" y="35.88" text-anchor="end" font-size="16">15</text>
<text x="55.39" y="9.6" text-anchor="middle" font-size="13.3">F2</text>
<text x="90.48" y="9.6" text-anchor="middle" font-size="13.3">F5</text>
<text x="136.15" y="9.6" text-anchor="middle" font-size="13.3">G2</text>
<text x="184.18" y="9.6" text-anchor="middle" font-size="13.3">K0</text>
<text x="254.37" y="9.6" text-anchor="middle" font-size="13.3">K5</text>
<text x="293.61" y="9.6" text-anchor="middle" font-size="13.3">M0</text>
<text x="332.00" y="9.6" text-anchor="middle" font-size="13.3">M3</text>
<text x="203.83" y="297.6" text-anchor="middle" font-size="16.5">Effective Temperature (K)</text>
<text transform="translate(11.70,136.6) rotate(-90)" text-anchor="middle" font-size="16.1">Rotation Period</text>
<g stroke="#000" stroke-width="1.1" fill="none"><rect x="429.85" y="15.0" width="312.75" height="244.50" fill="none" stroke="#000" stroke-width="1.3"/>
<line x1="742.60" y1="259.5" x2="742.60" y2="254.30"/>
<line x1="734.78" y1="259.5" x2="734.78" y2="256.70"/>
<line x1="726.96" y1="259.5" x2="726.96" y2="256.70"/>
<line x1="719.14" y1="259.5" x2="719.14" y2="256.70"/>
<line x1="711.33" y1="259.5" x2="711.33" y2="256.70"/>
<line x1="703.51" y1="259.5" x2="703.51" y2="256.70"/>
<line x1="695.69" y1="259.5" x2="695.69" y2="256.70"/>
<line x1="687.87" y1="259.5" x2="687.87" y2="256.70"/>
<line x1="680.05" y1="259.5" x2="680.05" y2="256.70"/>
<line x1="672.23" y1="259.5" x2="672.23" y2="256.70"/>
<line x1="664.41" y1="259.5" x2="664.41" y2="254.30"/>
<line x1="656.59" y1="259.5" x2="656.59" y2="256.70"/>
<line x1="648.78" y1="259.5" x2="648.78" y2="256.70"/>
<line x1="640.96" y1="259.5" x2="640.96" y2="256.70"/>
<line x1="633.14" y1="259.5" x2="633.14" y2="256.70"/>
<line x1="625.32" y1="259.5" x2="625.32" y2="256.70"/>
<line x1="617.50" y1="259.5" x2="617.50" y2="256.70"/>
<line x1="609.68" y1="259.5" x2="609.68" y2="256.70"/>
<line x1="601.86" y1="259.5" x2="601.86" y2="256.70"/>
<line x1="594.04" y1="259.5" x2="594.04" y2="256.70"/>
<line x1="586.23" y1="259.5" x2="586.23" y2="254.30"/>
<line x1="578.41" y1="259.5" x2="578.41" y2="256.70"/>
<line x1="570.59" y1="259.5" x2="570.59" y2="256.70"/>
<line x1="562.77" y1="259.5" x2="562.77" y2="256.70"/>
<line x1="554.95" y1="259.5" x2="554.95" y2="256.70"/>
<line x1="547.13" y1="259.5" x2="547.13" y2="256.70"/>
<line x1="539.31" y1="259.5" x2="539.31" y2="256.70"/>
<line x1="531.49" y1="259.5" x2="531.49" y2="256.70"/>
<line x1="523.68" y1="259.5" x2="523.68" y2="256.70"/>
<line x1="515.86" y1="259.5" x2="515.86" y2="256.70"/>
<line x1="508.04" y1="259.5" x2="508.04" y2="254.30"/>
<line x1="500.22" y1="259.5" x2="500.22" y2="256.70"/>
<line x1="492.40" y1="259.5" x2="492.40" y2="256.70"/>
<line x1="484.58" y1="259.5" x2="484.58" y2="256.70"/>
<line x1="476.76" y1="259.5" x2="476.76" y2="256.70"/>
<line x1="468.94" y1="259.5" x2="468.94" y2="256.70"/>
<line x1="461.12" y1="259.5" x2="461.12" y2="256.70"/>
<line x1="453.31" y1="259.5" x2="453.31" y2="256.70"/>
<line x1="445.49" y1="259.5" x2="445.49" y2="256.70"/>
<line x1="437.67" y1="259.5" x2="437.67" y2="256.70"/>
<line x1="429.85" y1="259.5" x2="429.85" y2="254.30"/>
<line x1="429.85" y1="259.50" x2="435.65" y2="259.50"/>
<line x1="742.6" y1="259.50" x2="736.80" y2="259.50"/>
<line x1="429.85" y1="244.22" x2="432.85" y2="244.22"/>
<line x1="742.6" y1="244.22" x2="739.60" y2="244.22"/>
<line x1="429.85" y1="228.94" x2="432.85" y2="228.94"/>
<line x1="742.6" y1="228.94" x2="739.60" y2="228.94"/>
<line x1="429.85" y1="213.66" x2="432.85" y2="213.66"/>
<line x1="742.6" y1="213.66" x2="739.60" y2="213.66"/>
<line x1="429.85" y1="198.38" x2="432.85" y2="198.38"/>
<line x1="742.6" y1="198.38" x2="739.60" y2="198.38"/>
<line x1="429.85" y1="183.09" x2="435.65" y2="183.09"/>
<line x1="742.6" y1="183.09" x2="736.80" y2="183.09"/>
<line x1="429.85" y1="167.81" x2="432.85" y2="167.81"/>
<line x1="742.6" y1="167.81" x2="739.60" y2="167.81"/>
<line x1="429.85" y1="152.53" x2="432.85" y2="152.53"/>
<line x1="742.6" y1="152.53" x2="739.60" y2="152.53"/>
<line x1="429.85" y1="137.25" x2="432.85" y2="137.25"/>
<line x1="742.6" y1="137.25" x2="739.60" y2="137.25"/>
<line x1="429.85" y1="121.97" x2="432.85" y2="121.97"/>
<line x1="742.6" y1="121.97" x2="739.60" y2="121.97"/>
<line x1="429.85" y1="106.69" x2="435.65" y2="106.69"/>
<line x1="742.6" y1="106.69" x2="736.80" y2="106.69"/>
<line x1="429.85" y1="91.41" x2="432.85" y2="91.41"/>
<line x1="742.6" y1="91.41" x2="739.60" y2="91.41"/>
<line x1="429.85" y1="76.12" x2="432.85" y2="76.12"/>
<line x1="742.6" y1="76.12" x2="739.60" y2="76.12"/>
<line x1="429.85" y1="60.84" x2="432.85" y2="60.84"/>
<line x1="742.6" y1="60.84" x2="739.60" y2="60.84"/>
<line x1="429.85" y1="45.56" x2="432.85" y2="45.56"/>
<line x1="742.6" y1="45.56" x2="739.60" y2="45.56"/>
<line x1="429.85" y1="30.28" x2="435.65" y2="30.28"/>
<line x1="742.6" y1="30.28" x2="736.80" y2="30.28"/>
<line x1="429.85" y1="15.00" x2="432.85" y2="15.00"/>
<line x1="742.6" y1="15.00" x2="739.60" y2="15.00"/>
<line x1="438.37" y1="15.0" x2="438.37" y2="20.20"/>
<line x1="473.40" y1="15.0" x2="473.40" y2="20.20"/>
<line x1="518.98" y1="15.0" x2="518.98" y2="20.20"/>
<line x1="566.91" y1="15.0" x2="566.91" y2="20.20"/>
<line x1="636.97" y1="15.0" x2="636.97" y2="20.20"/>
<line x1="676.14" y1="15.0" x2="676.14" y2="20.20"/>
<line x1="714.45" y1="15.0" x2="714.45" y2="20.20"/></g>
<text x="742.60" y="279.6" text-anchor="middle" font-size="16">3000</text>
<text x="664.41" y="279.6" text-anchor="middle" font-size="16">4000</text>
<text x="586.23" y="279.6" text-anchor="middle" font-size="16">5000</text>
<text x="508.04" y="279.6" text-anchor="middle" font-size="16">6000</text>
<text x="429.85" y="279.6" text-anchor="middle" font-size="16">7000</text>
<text x="425.45" y="259.10" text-anchor="end" font-size="16">0</text>
<text x="425.45" y="188.69" text-anchor="end" font-size="16">5</text>
<text x="425.45" y="112.29" text-anchor="end" font-size="16">10</text>
<text x="425.45" y="35.88" text-anchor="end" font-size="16">15</text>
<text x="438.37" y="9.6" text-anchor="middle" font-size="13.3">F2</text>
<text x="473.40" y="9.6" text-anchor="middle" font-size="13.3">F5</text>
<text x="518.98" y="9.6" text-anchor="middle" font-size="13.3">G2</text>
<text x="566.91" y="9.6" text-anchor="middle" font-size="13.3">K0</text>
<text x="636.97" y="9.6" text-anchor="middle" font-size="13.3">K5</text>
<text x="676.14" y="9.6" text-anchor="middle" font-size="13.3">M0</text>
<text x="714.45" y="9.6" text-anchor="middle" font-size="13.3">M3</text>
<text x="586.52" y="297.6" text-anchor="middle" font-size="16.5">Effective Temperature (K)</text>
<text transform="translate(394.70,136.6) rotate(-90)" text-anchor="middle" font-size="16.1">Rotation Period</text>
<rect x="54.0" y="26.0" width="120.8" height="37.5" fill="#fff" stroke="#000" stroke-width="1.3"/>
<circle cx="62.80" cy="33.2" r="3.0" fill="#ff8000" stroke="#222" stroke-width="0.7"/>
<text x="121.00" y="37.00" text-anchor="middle" font-size="11">1000 Myr NGC 6811</text>
<circle cx="62.80" cy="44.2" r="3.0" fill="#00ffff" stroke="#222" stroke-width="0.7"/>
<text x="121.80" y="48.00" text-anchor="middle" font-size="11">670 Myr Praesepe</text>
<circle cx="62.80" cy="54.6" r="3.0" fill="#0000ff" stroke="#222" stroke-width="0.7"/>
<text x="119.80" y="58.40" text-anchor="middle" font-size="11">120 Myr Pleiades</text>
<rect x="436.3" y="25.8" width="120.8" height="48.4" fill="#fff" stroke="#000" stroke-width="1.3"/>
<circle cx="445.10" cy="33.2" r="3.0" fill="#ff8000" stroke="#222" stroke-width="0.7"/>
<text x="503.30" y="37.00" text-anchor="middle" font-size="11">1000 Myr NGC 6811</text>
<circle cx="445.10" cy="44.2" r="3.0" fill="#00ffff" stroke="#222" stroke-width="0.7"/>
<text x="504.10" y="48.00" text-anchor="middle" font-size="11">670 Myr Praesepe</text>
<circle cx="445.10" cy="54.6" r="3.0" fill="#0000ff" stroke="#222" stroke-width="0.7"/>
<text x="502.10" y="58.40" text-anchor="middle" font-size="11">120 Myr Pleiades</text>
<path d="M445.40,60.00 L446.78,63.70 L450.73,63.87 L447.63,66.33 L448.69,70.13 L445.40,67.95 L442.11,70.13 L443.17,66.33 L440.07,63.87 L444.02,63.70Z" fill="#ff0000" stroke="#000" stroke-width="0.7"/>
<text x="519.90" y="69.10" text-anchor="middle" font-size="11">Psc-Eri</text>
</svg></body></html>
